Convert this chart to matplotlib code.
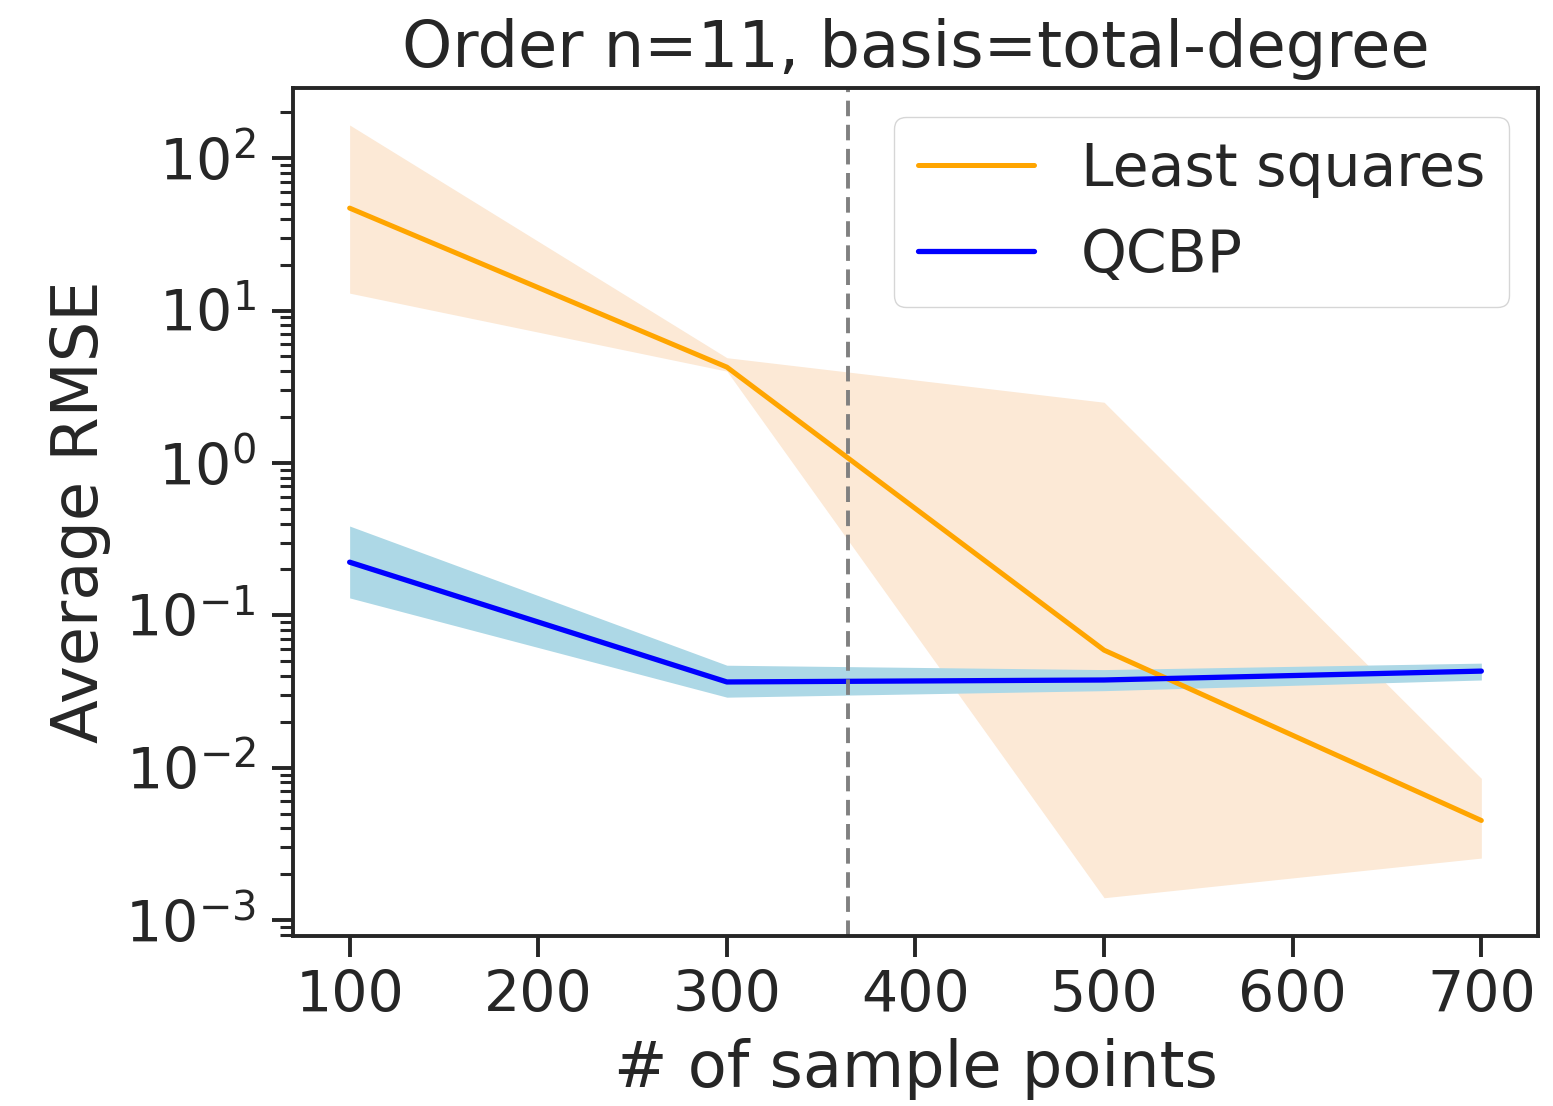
import matplotlib
matplotlib.use('Agg')
import matplotlib.pyplot as plt
import seaborn as sns

# data
samples = [100, 300, 500, 700]

ls_mean = [47.0, 4.25, 0.059, 0.0045]
ls_low = [13.0, 4.0, 0.0014, 0.00255]
ls_high = [165.0, 4.9, 2.5, 0.0085]

qcbp_mean = [0.223, 0.0365, 0.0376, 0.043]
qcbp_low = [0.13, 0.029, 0.032, 0.0376]
qcbp_high = [0.385, 0.047, 0.044, 0.0485]

threshold = 364

sns.set_style('ticks')
plt.rcParams['font.family'] = ['DejaVu Sans']

fs = 41
lfs = 46
fig = plt.figure(figsize=(15.53, 11.06), dpi=100)
ax = fig.add_axes([0.1887, 0.1537, 0.8016, 0.7667])

ax.fill_between(samples, ls_low, ls_high, color='#fce9d6', linewidth=0)
ax.fill_between(samples, qcbp_low, qcbp_high, color='lightblue', linewidth=0)
ax.plot(samples, ls_mean, color='orange', lw=3.6, label='Least squares')
ax.plot(samples, qcbp_mean, color='blue', lw=3.8, label='QCBP')
ax.axvline(threshold, color='gray', ls=(0, (4, 2.2)), lw=2.8)

ax.set_yscale('log')
ax.set_xlim(70, 730)
ax.set_ylim(10 ** -3.105, 10 ** 2.46)
ax.set_xticks([100, 200, 300, 400, 500, 600, 700])

for s in ax.spines.values():
    s.set_linewidth(2.8)
    s.set_color('#262626')
ax.tick_params(which='major', length=15, width=2.8, labelsize=fs, colors='#262626')
ax.tick_params(axis='y', which='major', pad=12)
ax.tick_params(axis='x', which='major', pad=9)
ax.tick_params(which='minor', length=9.4, width=2.2, colors='#262626')

ax.set_xlabel('# of sample points', fontsize=lfs, color='#262626', labelpad=10)
ax.set_ylabel('Average RMSE', fontsize=lfs, color='#262626', labelpad=10)
ax.set_title('Order n=11, basis=total-degree', fontsize=lfs, color='#262626', pad=15)

ax.legend(loc='upper right', fontsize=42)

fig.savefig('out.png', dpi=100)
